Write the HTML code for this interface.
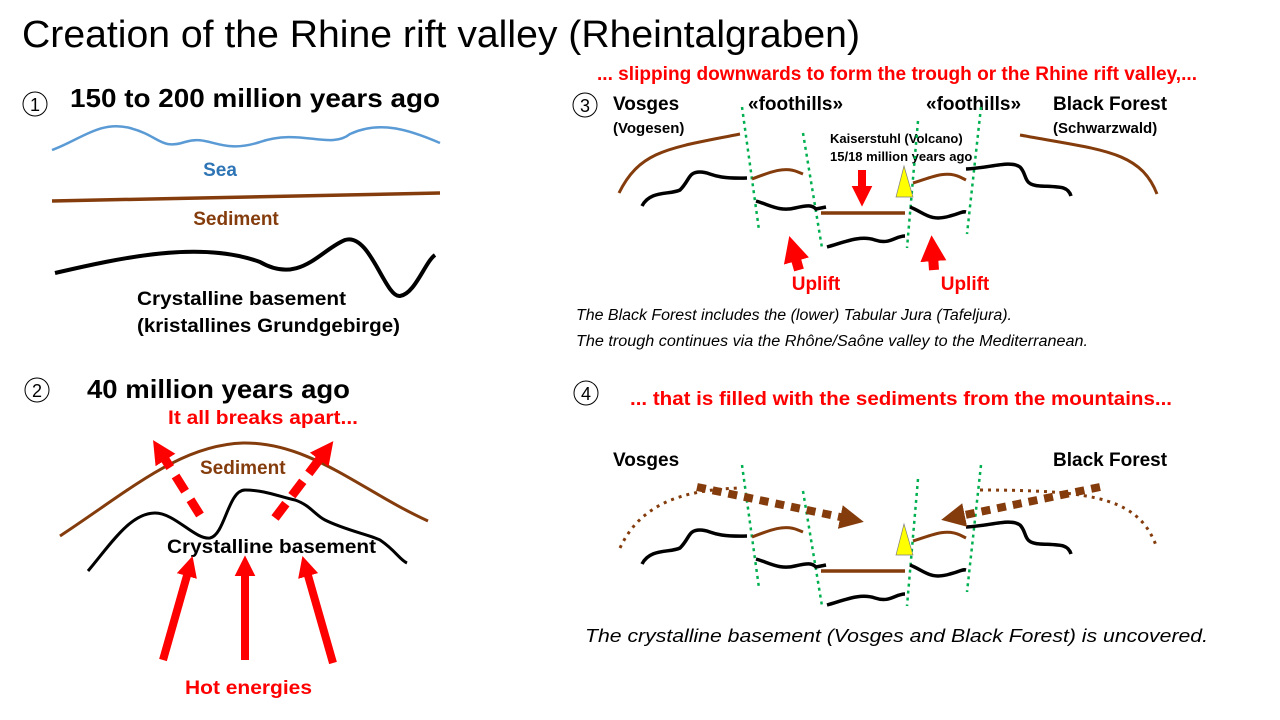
<!DOCTYPE html>
<html><head><meta charset="utf-8"><style>
body{margin:0;background:#fff}
svg{display:block}
text{font-family:"Liberation Sans",sans-serif}
.b{font-weight:bold}
</style></head><body>
<svg width="1280" height="720" viewBox="0 0 1280 720" xmlns="http://www.w3.org/2000/svg">
<defs>
<marker id="ar" viewBox="0 0 10 10" refX="2" refY="5" markerWidth="2.6" markerHeight="2.6" orient="auto"><path d="M0,0L10,5L0,10z" fill="#f00"/></marker>
<marker id="ab" viewBox="0 0 10 10" refX="2" refY="5" markerWidth="3" markerHeight="3" orient="auto"><path d="M0,0L10,5L0,10z" fill="#843c0c"/></marker>
</defs>
<text x="22" y="47" font-size="38" textLength="838" lengthAdjust="spacingAndGlyphs">Creation of the Rhine rift valley (Rheintalgraben)</text>

<!-- Panel 1 -->
<circle cx="35" cy="104" r="12" fill="none" stroke="#000" stroke-width="1"/>
<text x="35" y="111" font-size="18" text-anchor="middle">1</text>
<text x="70" y="107" font-size="26" class="b" textLength="370" lengthAdjust="spacingAndGlyphs">150 to 200 million years ago</text>
<path d="M52,150 C80,140 100,120 130,128 C160,136 160,150 185,142 C210,134 220,155 260,142 C300,128 330,150 350,134 C380,120 410,130 440,143" fill="none" stroke="#5b9bd5" stroke-width="2.5"/>
<text x="220" y="176" font-size="19" class="b" fill="#2e75b6" text-anchor="middle">Sea</text>
<path d="M52,201 L440,193" stroke="#843c0c" stroke-width="3.5"/>
<text x="236" y="225" font-size="19" class="b" fill="#843c0c" text-anchor="middle">Sediment</text>
<path d="M55,273 C120,258 200,240 260,262 C300,285 320,250 345,240 C370,232 385,298 400,296 C415,294 425,262 435,255" fill="none" stroke="#000" stroke-width="4"/>
<text x="137" y="305" font-size="19" class="b" textLength="209" lengthAdjust="spacingAndGlyphs">Crystalline basement</text>
<text x="137" y="332" font-size="19" class="b" textLength="263" lengthAdjust="spacingAndGlyphs">(kristallines Grundgebirge)</text>

<!-- Panel 2 -->
<circle cx="37" cy="390" r="12" fill="none" stroke="#000" stroke-width="1"/>
<text x="37" y="397" font-size="18" text-anchor="middle">2</text>
<text x="87" y="398" font-size="26" class="b" textLength="263" lengthAdjust="spacingAndGlyphs">40 million years ago</text>
<text x="168" y="424" font-size="19" class="b" fill="#f00" textLength="190" lengthAdjust="spacingAndGlyphs">It all breaks apart...</text>
<path d="M60,536 C130,490 180,445 243,443 C310,442 360,490 428,521" fill="none" stroke="#843c0c" stroke-width="3"/>
<text x="200" y="474" font-size="19" class="b" fill="#843c0c">Sediment</text>
<path d="M88,571 C110,545 130,513 155,513 C175,513 195,540 210,538 C225,535 228,490 245,490 C265,490 280,497 295,500 C310,505 315,515 325,520 C345,530 370,535 380,540 C395,550 400,560 407,563" fill="none" stroke="#000" stroke-width="3"/>
<text x="167" y="553" font-size="19" class="b" textLength="209" lengthAdjust="spacingAndGlyphs">Crystalline basement</text>
<path d="M200,515 L163,456" stroke="#f00" stroke-width="9" stroke-dasharray="18,10" marker-end="url(#ar)"/>
<path d="M275,518 L322,456" stroke="#f00" stroke-width="9" stroke-dasharray="18,10" marker-end="url(#ar)"/>
<path d="M163,660 L188,572" stroke="#f00" stroke-width="8" marker-end="url(#ar)"/>
<path d="M245,660 L245,572" stroke="#f00" stroke-width="8" marker-end="url(#ar)"/>
<path d="M333,663 L307,572" stroke="#f00" stroke-width="8" marker-end="url(#ar)"/>
<text x="185" y="694" font-size="19" class="b" fill="#f00" textLength="127" lengthAdjust="spacingAndGlyphs">Hot energies</text>

<!-- Panel 3 -->
<text x="597" y="80" font-size="19" class="b" fill="#f00" textLength="600" lengthAdjust="spacingAndGlyphs">... slipping downwards to form the trough or the Rhine rift valley,...</text>
<circle cx="585" cy="105" r="12" fill="none" stroke="#000" stroke-width="1"/>
<text x="585" y="112" font-size="18" text-anchor="middle">3</text>
<text x="613" y="110" font-size="19" class="b">Vosges</text>
<text x="613" y="133" font-size="15" class="b">(Vogesen)</text>
<text x="748" y="110" font-size="19" class="b">«foothills»</text>
<text x="926" y="110" font-size="19" class="b">«foothills»</text>
<text x="1053" y="110" font-size="19" class="b">Black Forest</text>
<text x="1053" y="133" font-size="15" class="b">(Schwarzwald)</text>
<text x="830" y="143" font-size="13" class="b">Kaiserstuhl (Volcano)</text>
<text x="830" y="161" font-size="13" class="b">15/18 million years ago</text>
<path d="M619,193 C640,150 670,148 740,134" fill="none" stroke="#843c0c" stroke-width="3"/>
<path d="M1020,135 C1100,150 1140,150 1157,194" fill="none" stroke="#843c0c" stroke-width="3"/>
<g id="core">
<path d="M742,107 L759,230 M803,133 L822,248 M918,121 L907,248 M981,107 L967,234" stroke="#00b050" stroke-width="2.5" stroke-dasharray="3,4"/>
<path d="M642,206 C650,190 670,195 680,190 C690,180 688,172 700,172 C712,172 710,179 747,178" fill="none" stroke="#000" stroke-width="3.5"/>
<path d="M752,179 C770,172 785,166 798,172 L803,174" fill="none" stroke="#843c0c" stroke-width="3"/>
<path d="M756,201 C770,205 780,212 795,208 C808,205 812,205 816,209 L826,207" fill="none" stroke="#000" stroke-width="3.5"/>
<path d="M821,213 L905,213" stroke="#843c0c" stroke-width="3.5"/>
<path d="M827,247 C845,242 860,235 875,240 C890,245 895,236 905,236" fill="none" stroke="#000" stroke-width="3.5"/>
<path d="M913,183 C930,178 945,170 960,177 L966,180" fill="none" stroke="#843c0c" stroke-width="3"/>
<path d="M966,169 C990,168 1010,160 1020,167 C1028,175 1022,185 1040,186 C1060,187 1068,186 1071,196" fill="none" stroke="#000" stroke-width="3.5"/>
<path d="M910,207 C925,213 930,222 950,216 C962,213 962,211 966,212" fill="none" stroke="#000" stroke-width="3.5"/>
<path d="M904,166 L896,197 L913,197 Z" fill="#ff0" stroke="#7f7f7f" stroke-width="0.7"/>
</g>
<path d="M862,170 L862,190" stroke="#f00" stroke-width="8" marker-end="url(#ar)"/>
<path d="M799,270 L795,256" stroke="#f00" stroke-width="10" marker-end="url(#ar)"/>
<path d="M934,270 L933,256" stroke="#f00" stroke-width="10" marker-end="url(#ar)"/>
<text x="816" y="290" font-size="19" class="b" fill="#f00" text-anchor="middle">Uplift</text>
<text x="965" y="290" font-size="19" class="b" fill="#f00" text-anchor="middle">Uplift</text>
<text x="576" y="320" font-size="15.5" font-style="italic" textLength="436" lengthAdjust="spacingAndGlyphs">The Black Forest includes the (lower) Tabular Jura (Tafeljura).</text>
<text x="576" y="346" font-size="15.5" font-style="italic" textLength="512" lengthAdjust="spacingAndGlyphs">The trough continues via the Rhône/Saône valley to the Mediterranean.</text>

<!-- Panel 4 -->
<circle cx="586" cy="393" r="12" fill="none" stroke="#000" stroke-width="1"/>
<text x="586" y="400" font-size="18" text-anchor="middle">4</text>
<text x="630" y="405" font-size="19" class="b" fill="#f00" textLength="542" lengthAdjust="spacingAndGlyphs">... that is filled with the sediments from the mountains...</text>
<text x="613" y="466" font-size="19" class="b">Vosges</text>
<text x="1053" y="466" font-size="19" class="b">Black Forest</text>
<use href="#core" transform="translate(0,358)"/>
<path d="M620,548 C640,505 680,490 740,488" fill="none" stroke="#843c0c" stroke-width="3" stroke-dasharray="3,5"/>
<path d="M980,490 C1100,490 1140,500 1157,548" fill="none" stroke="#843c0c" stroke-width="3" stroke-dasharray="3,5"/>
<path d="M697,487 L845,518" stroke="#843c0c" stroke-width="8" stroke-dasharray="9,7" marker-end="url(#ab)"/>
<path d="M1100,487 L960,516" stroke="#843c0c" stroke-width="8" stroke-dasharray="9,7" marker-end="url(#ab)"/>
<text x="585" y="642" font-size="18" font-style="italic" textLength="623" lengthAdjust="spacingAndGlyphs">The crystalline basement (Vosges and Black Forest) is uncovered.</text>
</svg>
</body></html>
